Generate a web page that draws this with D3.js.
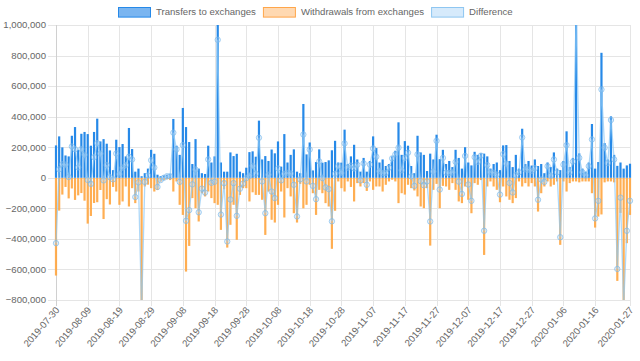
<!DOCTYPE html>
<html>
<head>
<meta charset="utf-8">
<script src="https://cdn.jsdelivr.net/npm/d3@7"></script>
<style>
  body { margin: 0; background: #fff; }
  svg text { font-family: "Liberation Sans", Arial, sans-serif; fill: #666; }
</style>
</head>
<body>
<svg id="chart"></svg>
<script>
// daily flows, thousands of units
const transfers = [
  212, 271, 199, 146, 140, 275, 332, 183, 288, 300,
  286, 210, 300, 387, 238, 253, 223, 179, 50, 249,
  201, 221, 140, 326, 188, 40, 60, 10, 30, 60,
  183, 157, 20, 10, 15, 20, 25, 385, 210, 150,
  457, 332, 234, 90, 253, 60, 30, 25, 210, 100,
  140, 1080, 100, 40, 40, 166, 142, 157, 40, 30,
  66, 168, 173, 138, 374, 120, 142, 110, 185, 160,
  238, 73, 286, 100, 150, 186, 40, 30, 483, 153,
  231, 48, 103, 186, 99, 103, 114, 180, 242, 100,
  99, 315, 90, 140, 216, 120, 40, 130, 40, 110,
  271, 195, 100, 120, 77, 90, 140, 177, 363, 150,
  240, 210, 77, 30, 275, 166, 150, 44, 158, 120,
  282, 122, 183, 90, 110, 70, 183, 130, 60, 200,
  100, 81, 170, 150, 160, 158, 140, 60, 90, 100,
  50, 212, 214, 110, 70, 150, 60, 321, 90, 110,
  80, 120, 77, 90, 30, 100, 70, 166, 60, 50,
  110, 304, 70, 130, 1080, 160, 60, 40, 100, 352,
  60, 103, 818, 227, 120, 402, 150, 78, 100, 60,
  81, 92
];
const withdrawals = [
  640, 215, 110, 60, 135, 70, 145, 115, 100, 150,
  300, 250, 165, 160, 80, 270, 140, 175, 60, 90,
  177, 155, 57, 188, 68, 166, 90, 880, 57, 45,
  68, 90, 80, 25, 15, 10, 15, 90, 24, 177,
  243, 614, 446, 133, 199, 286, 101, 122, 90, 133,
  166, 177, 341, 75, 457, 308, 177, 406, 112, 68,
  68, 155, 95, 112, 112, 144, 374, 90, 275, 293,
  177, 90, 260, 68, 122, 232, 293, 40, 200, 177,
  46, 101, 243, 79, 101, 166, 188, 465, 216, 24,
  68, 90, 24, 60, 155, 35, 57, 35, 86, 24,
  79, 57, 57, 90, 46, 24, 13, 24, 166, 101,
  110, 46, 68, 83, 122, 188, 199, 68, 444, 79,
  40, 199, 53, 57, 79, 35, 79, 155, 166, 57,
  144, 232, 35, 46, 15, 505, 57, 24, 57, 79,
  160, 57, 122, 144, 166, 133, 24, 57, 35, 57,
  35, 57, 221, 101, 57, 24, 57, 46, 24, 439,
  24, 90, 35, 24, 24, 30, 24, 24, 24, 101,
  326, 254, 240, 30, 24, 24, 30, 675, 230, 900,
  428, 243
];
const firstDay = '2019-07-30';
const lastDay = '2020-01-27';
const tickLabels = ['2019-07-30', '2019-08-09', '2019-08-19', '2019-08-29', '2019-09-08',
  '2019-09-18', '2019-09-28', '2019-10-08', '2019-10-18', '2019-10-28', '2019-11-07',
  '2019-11-17', '2019-11-27', '2019-12-07', '2019-12-17', '2019-12-27', '2020-01-06',
  '2020-01-16', '2020-01-27'];
const yTicks = [-800000, -600000, -400000, -200000, 0, 200000, 400000, 600000, 800000, 1000000];
const seriesNames = ['Transfers to exchanges', 'Withdrawals from exchanges', 'Difference'];

const W = 640, H = 361;
const margin = {top: 25, right: 10, bottom: 61, left: 56};

const parseDay = d3.timeParse('%Y-%m-%d');
const fmtDay = d3.timeFormat('%Y-%m-%d');
const days = d3.timeDay.range(parseDay(firstDay), d3.timeDay.offset(parseDay(lastDay), 1)).map(fmtDay);

const rows = days.map((d, i) => ({
  day: d,
  inflow: transfers[i] * 1000,
  outflow: -withdrawals[i] * 1000,
  diff: (transfers[i] - withdrawals[i]) * 1000
}));

const svg = d3.select('#chart').attr('width', W).attr('height', H);

const x = d3.scalePoint().domain(days).range([margin.left, W - margin.right]);
const y = d3.scaleLinear().domain([-800000, 1000000]).range([H - margin.bottom, margin.top]);

// grid
const grid = svg.append('g');
grid.selectAll('line.h').data(yTicks).join('line')
  .attr('x1', margin.left - 8).attr('x2', W - margin.right)
  .attr('y1', d => Math.round(y(d)) + 0.5).attr('y2', d => Math.round(y(d)) + 0.5)
  .attr('stroke', '#e5e5e5').attr('stroke-width', 1);
grid.selectAll('line.v').data(tickLabels).join('line')
  .attr('x1', d => Math.round(x(d)) + 0.5).attr('x2', d => Math.round(x(d)) + 0.5)
  .attr('y1', margin.top).attr('y2', H - margin.bottom + 6)
  .attr('stroke', (d, i) => i === 0 ? '#d0d0d0' : '#e5e5e5').attr('stroke-width', 1);

// axis labels
svg.append('g').selectAll('text').data(yTicks).join('text')
  .attr('x', margin.left - 10).attr('y', d => y(d))
  .attr('dy', '0.35em').attr('text-anchor', 'end')
  .attr('font-size', '9.6px')
  .text(d => d3.format(',')(d));

svg.append('g').selectAll('text').data(tickLabels).join('text')
  .attr('transform', d => `translate(${x(d) - 1},${H - margin.bottom + 6}) rotate(-49)`)
  .attr('text-anchor', 'end').attr('dy', '0.7em')
  .attr('font-size', '9.6px')
  .text(d => d);

// plot
svg.append('clipPath').attr('id', 'plot-clip').append('rect')
  .attr('x', margin.left - 4).attr('y', margin.top)
  .attr('width', W - margin.left - margin.right + 8).attr('height', H - margin.top - margin.bottom);
const plot = svg.append('g').attr('clip-path', 'url(#plot-clip)');

const barW = 2.2;
plot.selectAll('rect.out').data(rows).join('rect')
  .attr('x', d => x(d.day) - barW / 2).attr('width', barW)
  .attr('y', y(0)).attr('height', d => y(d.outflow) - y(0))
  .attr('fill', '#ffa53f').attr('opacity', 0.9);
plot.selectAll('rect.in').data(rows).join('rect')
  .attr('x', d => x(d.day) - barW / 2).attr('width', barW)
  .attr('y', d => y(d.inflow)).attr('height', d => y(0) - y(d.inflow))
  .attr('fill', '#2689e8');

const line = d3.line().x(d => x(d.day)).y(d => y(d.diff));
plot.append('path').datum(rows)
  .attr('d', line).attr('fill', 'none')
  .attr('stroke', 'rgba(140,200,245,0.7)').attr('stroke-width', 1.3);
plot.selectAll('circle').data(rows).join('circle')
  .attr('cx', d => x(d.day)).attr('cy', d => y(d.diff)).attr('r', 2.7)
  .attr('fill', 'rgba(170,210,245,0.3)')
  .attr('stroke', 'rgba(120,185,235,0.65)').attr('stroke-width', 1);

// legend
const legendFill = ['#7ab5f0', '#ffd9b2', '#d6eafb'];
const legendStroke = ['#2689e8', '#ffa64a', '#8ec6f1'];
const legend = svg.append('g');
let lx = 118;
seriesNames.forEach((name, i) => {
  legend.append('rect').attr('x', lx + 0.5).attr('y', 7.5).attr('width', 32).attr('height', 9.6)
    .attr('fill', legendFill[i]).attr('stroke', legendStroke[i]).attr('stroke-width', 1);
  const t = legend.append('text').attr('x', lx + 38).attr('y', 12).attr('dy', '0.35em')
    .attr('font-size', '9.6px').text(name);
  lx += 38 + t.node().getComputedTextLength() + 7;
});
</script>
</body>
</html>
